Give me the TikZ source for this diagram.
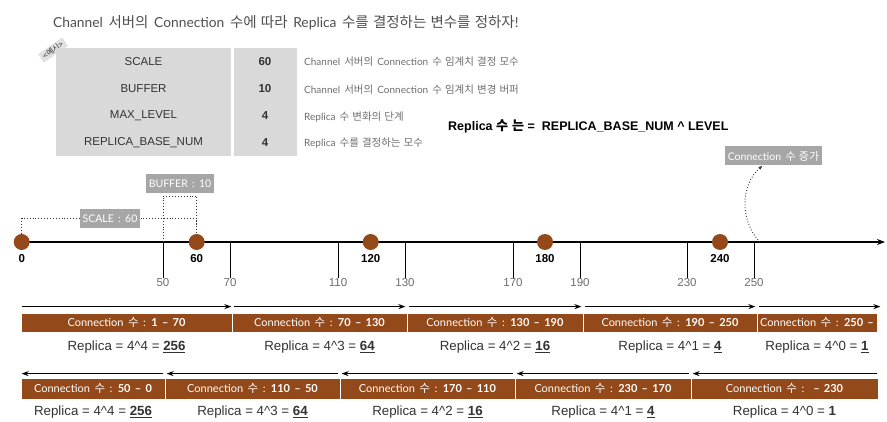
\documentclass[tikz,border=0pt]{standalone}
\usepackage{fontspec}
\setmainfont[WordSpace=1.6]{Lato}
\newfontfamily\hangulfont[Scale=1.05, WordSpace=1.3]{Noto Sans CJK KR}
\newfontfamily\hvfont{Liberation Sans}
\newcommand{\hangul}[1]{{\hangulfont #1}}
\usetikzlibrary{arrows.meta,positioning}
\definecolor{repbrown}{HTML}{94491A}
\definecolor{repcell}{HTML}{D9D9D9}
\definecolor{repbox}{HTML}{A6A6A6}
\definecolor{repink}{HTML}{333333}
\definecolor{repgray}{HTML}{4F4F4F}
\definecolor{repmute}{HTML}{6E6E6E}
\tikzset{
  ttl/.style={anchor=west, inner sep=0, text=repgray, font=\fontsize{13.8}{15}\selectfont},
  key/.style={fill=repcell, minimum width=175, minimum height=26.5, inner sep=0, text=repink, font=\hvfont\fontsize{11.5}{13}\selectfont},
  val/.style={key, minimum width=63, font=\hvfont\bfseries\fontsize{11.5}{13}\selectfont},
  desc/.style={anchor=west, inner sep=0, text=repmute, font=\fontsize{10}{11}\selectfont},
  gtag/.style={fill=repbox, text=white, minimum height=19, inner xsep=3, inner ysep=1, font=\fontsize{10.5}{12}\selectfont},
  dot/.style={circle, fill=repbrown, minimum size=16, inner sep=0},
  num/.style={inner sep=1, font=\hvfont\bfseries\fontsize{11.5}{13}\selectfont},
  tk/.style={inner sep=1, text=repmute, font=\hvfont\fontsize{11.5}{13}\selectfont},
  bar/.style={fill=repbrown, draw=white, line width=0.8, text=white, inner sep=0, font=\fontsize{11}{12}\selectfont},
  rep/.style={inner sep=0, text=repink, font=\hvfont\fontsize{13.3}{15}\selectfont},
  arr/.style={-{Stealth[length=7,width=5]}, line width=1.1, color=black},
  axis/.style={-{Stealth[length=8,width=6]}, line width=1.3, color=black},
  tick/.style={line width=0.9, color=black},
  guide/.style={dotted, line width=0.9, color=repink},
}
\begin{document}
\begin{tikzpicture}[x=1pt, y=-1pt]
  \fill[white] (0,0) rectangle (887,422);
  \useasboundingbox (0,0) rectangle (887,422);
  % title and example table
  \node[ttl] (title) at (53,23) {Channel \hangul{서버의} Connection \hangul{수에 따라} Replica \hangul{수를 결정하는 변수를 정하자}!};
  \node[fill=repcell!80, rotate=35, inner xsep=3, inner ysep=1.5, font=\fontsize{7.5}{8}\selectfont, text=repink] (ex) at (53,50) {\hangul{<예시>}};
  \node[key] (k1) at (143.5,61.5) {SCALE};
  \node[key] (k2) at (143.5,88.5) {BUFFER};
  \node[key] (k3) at (143.5,115.5) {MAX\_LEVEL};
  \node[key] (k4) at (143.5,142.5) {REPLICA\_BASE\_NUM};
  \node[val] (v1) at (265,61.5) {60};
  \node[val] (v2) at (265,88.5) {10};
  \node[val] (v3) at (265,115.5) {4};
  \node[val] (v4) at (265,142.5) {4};
  \node[desc] (d1) at (304,62) {Channel \hangul{서버의} Connection \hangul{수 임계치 결정 모수}};
  \node[desc] (d2) at (304,90) {Channel \hangul{서버의} Connection \hangul{수 임계치 변경 버퍼}};
  \node[desc] (d3) at (304,117) {Replica \hangul{수 변화의 단계}};
  \node[desc] (d4) at (304,143) {Replica \hangul{수를 결정하는 모수}};
  \node[anchor=west, inner sep=0, font=\hvfont\bfseries\fontsize{12.5}{14}\selectfont] (rule) at (448,126) {Replica \hangul{수 는} =\ \ REPLICA\_BASE\_NUM \textasciicircum{} LEVEL};
  % timeline
  \coordinate (origin) at (21.7,242);
  \coordinate (axend) at (885,242);
  \draw[axis] (origin) -- (axend);
  \node[tk] (l50) at (163,283) {50};
  \node[tk] (l70) at (230,283) {70};
  \node[tk] (l110) at (338,283) {110};
  \node[tk] (l130) at (405,283) {130};
  \node[tk] (l170) at (513,283) {170};
  \node[tk] (l190) at (580,283) {190};
  \node[tk] (l230) at (687,283) {230};
  \node[tk] (l250) at (754,283) {250};
  \coordinate (t50) at (163,242);
  \coordinate (t70) at (230,242);
  \coordinate (t110) at (338,242);
  \coordinate (t130) at (405,242);
  \coordinate (t170) at (513,242);
  \coordinate (t190) at (580,242);
  \coordinate (t230) at (687,242);
  \coordinate (t250) at (754,242);
  \draw[tick] (t50) -- (l50.north);   \draw[tick] (t70) -- (l70.north);
  \draw[tick] (t110) -- (l110.north); \draw[tick] (t130) -- (l130.north);
  \draw[tick] (t170) -- (l170.north); \draw[tick] (t190) -- (l190.north);
  \draw[tick] (t230) -- (l230.north); \draw[tick] (t250) -- (l250.north);
  \node[dot] (c0) at (origin) {};
  \node[dot] (c60) at (196.7,242) {};
  \node[dot] (c120) at (370.7,242) {};
  \node[dot] (c180) at (545,242) {};
  \node[dot] (c240) at (720,242) {};
  \node[num] (n0) at (21.7,259) {0};
  \node[num] (n60) at (196.7,259) {60};
  \node[num] (n120) at (370.7,259) {120};
  \node[num] (n180) at (545,259) {180};
  \node[num] (n240) at (720,259) {240};
  % scale / buffer brackets
  \node[gtag] (scl) at (110,218.5) {SCALE : 60};
  \node[gtag] (buf) at (180,183.5) {BUFFER : 10};
  \coordinate (b50) at (163,196);
  \draw[guide] (c0.north) |- (scl.west);
  \draw[guide] (scl.east) -| (c60.north);
  \draw[guide] (t50) -- (b50) -| (c60.north);
  \node[gtag] (inc) at (773.5,156) {Connection \hangul{수 증가}};
  \coordinate (up) at (760,242);
  \draw[guide, -{Latex[length=4,width=3.5]}] (up) .. controls (740,222) and (740,185) .. ([xshift=-11pt]inc.south);
  % increasing connections
  \node[bar, minimum width=211, minimum height=19] (f1) at (126.5,322.5) {Connection \hangul{수} : \textbf{1 -- 70}};
  \node[bar, minimum width=175, minimum height=19] (f2) at (319.5,322.5) {Connection \hangul{수} : \textbf{70 -- 130}};
  \node[bar, minimum width=176, minimum height=19] (f3) at (495,322.5) {Connection \hangul{수} : \textbf{130 -- 190}};
  \node[bar, minimum width=174, minimum height=19] (f4) at (670,322.5) {Connection \hangul{수} : \textbf{190 -- 250}};
  \node[bar, minimum width=120, minimum height=19] (f5) at (817,322.5) {Connection \hangul{수} : \textbf{250 --}};
  \draw[arr] ([shift={(1pt,6pt)}]f1.north west) -- ([shift={(-1pt,6pt)}]f1.north east);
  \draw[arr] ([shift={(2pt,6pt)}]f2.north west) -- ([shift={(-2pt,6pt)}]f2.north east);
  \draw[arr] ([shift={(2pt,6pt)}]f3.north west) -- ([shift={(-2pt,6pt)}]f3.north east);
  \draw[arr] ([shift={(2pt,6pt)}]f4.north west) -- ([shift={(-2pt,6pt)}]f4.north east);
  \draw[arr] ([shift={(2pt,6pt)}]f5.north west) -- ([shift={(3pt,6pt)}]f5.north east);
  \node[rep] (r1) at (126.5,347) {Replica = 4\textasciicircum4 = \textbf{\underline{256}}};
  \node[rep] (r2) at (319.5,347) {Replica = 4\textasciicircum3 = \textbf{\underline{64}}};
  \node[rep] (r3) at (495,347) {Replica = 4\textasciicircum2 = \textbf{\underline{16}}};
  \node[rep] (r4) at (670,347) {Replica = 4\textasciicircum1 = \textbf{\underline{4}}};
  \node[rep] (r5) at (817,347) {Replica = 4\textasciicircum0 = \textbf{\underline{1}}};
  % decreasing connections
  \node[bar, minimum width=144, minimum height=21] (g1) at (93,388.5) {Connection \hangul{수} : \textbf{50 -- 0}};
  \node[bar, minimum width=175, minimum height=21] (g2) at (252.5,388.5) {Connection \hangul{수} : \textbf{110 -- 50}};
  \node[bar, minimum width=175, minimum height=21] (g3) at (427.5,388.5) {Connection \hangul{수} : \textbf{170 -- 110}};
  \node[bar, minimum width=176, minimum height=21] (g4) at (603,388.5) {Connection \hangul{수} : \textbf{230 -- 170}};
  \node[bar, minimum width=187, minimum height=21] (g5) at (784.5,388.5) {Connection \hangul{수} :\ \ \textbf{-- 230}};
  \draw[arr] ([shift={(-2pt,4pt)}]g1.north east) -- ([shift={(1pt,4pt)}]g1.north west);
  \draw[arr] ([shift={(-2pt,4pt)}]g2.north east) -- ([shift={(2pt,4pt)}]g2.north west);
  \draw[arr] ([shift={(-2pt,4pt)}]g3.north east) -- ([shift={(2pt,4pt)}]g3.north west);
  \draw[arr] ([shift={(-2pt,4pt)}]g4.north east) -- ([shift={(2pt,4pt)}]g4.north west);
  \draw[arr] ([shift={(-1pt,4pt)}]g5.north east) -- ([shift={(2pt,4pt)}]g5.north west);
  \node[rep] (s1) at (93,412) {Replica = 4\textasciicircum4 = \textbf{\underline{256}}};
  \node[rep] (s2) at (252.5,412) {Replica = 4\textasciicircum3 = \textbf{\underline{64}}};
  \node[rep] (s3) at (427.5,412) {Replica = 4\textasciicircum2 = \textbf{\underline{16}}};
  \node[rep] (s4) at (603,412) {Replica = 4\textasciicircum1 = \textbf{\underline{4}}};
  \node[rep] (s5) at (784.5,412) {Replica = 4\textasciicircum0 = \textbf{1}};
\end{tikzpicture}
\end{document}
